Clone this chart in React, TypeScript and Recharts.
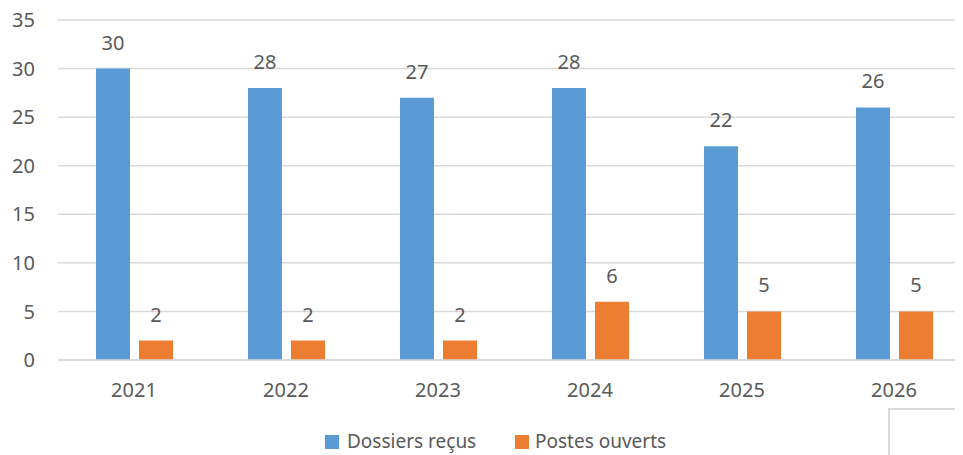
import { BarChart, Bar, XAxis, YAxis, CartesianGrid, Legend, LabelList } from 'recharts';

const years = ['2021', '2022', '2023', '2024', '2025', '2026'];
const dossiersRecus = [30, 28, 27, 28, 22, 26];
const postesOuverts = [2, 2, 2, 6, 5, 5];
const yTicks = [0, 5, 10, 15, 20, 25, 30, 35];

const BLUE = '#5B9BD5';
const ORANGE = '#ED7D31';
const TEXT = '#595959';
const FONT = '"Noto Sans", "Open Sans", sans-serif';

const data = years.map((year, i) => ({
  year,
  dossiers: dossiersRecus[i],
  postes: postesOuverts[i],
}));

const LegendContent = () => (
  <div style={{ display: 'flex', alignItems: 'center', fontFamily: FONT, fontSize: 19, lineHeight: '19px', color: TEXT }}>
    <div style={{ display: 'flex', alignItems: 'center', width: 190 }}>
      <span style={{ display: 'inline-block', width: 14, height: 14, background: BLUE, marginRight: 8 }} />
      <span>Dossiers reçus</span>
    </div>
    <div style={{ display: 'flex', alignItems: 'center' }}>
      <span style={{ display: 'inline-block', width: 14, height: 14, background: ORANGE, marginRight: 6 }} />
      <span>Postes ouverts</span>
    </div>
  </div>
);

export default function App() {
  return (
    <div style={{ position: 'relative', margin: '-8px 0 0 -8px', width: 963, height: 455, overflow: 'hidden', background: '#fff' }}>
      <BarChart
        width={980}
        height={455}
        data={data}
        margin={{ top: 20, right: 10, left: 0, bottom: 0 }}
        barCategoryGap="25%"
        barGap={9}
      >
        <CartesianGrid vertical={false} stroke="#D9D9D9" strokeWidth={1.5} />
        <XAxis
          dataKey="year"
          height={95}
          tickLine={false}
          axisLine={{ stroke: '#D9D9D9', strokeWidth: 1.5 }}
          tickSize={0}
          tickMargin={23}
          tick={{ fontSize: 20, fill: TEXT, fontFamily: FONT }}
        />
        <YAxis
          width={58}
          domain={[0, 35]}
          ticks={yTicks}
          axisLine={false}
          tickLine={false}
          tickSize={0}
          tickMargin={23}
          tick={{ fontSize: 20, fill: TEXT, fontFamily: FONT }}
        />
        <Legend
          verticalAlign="middle"
          content={<LegendContent />}
          wrapperStyle={{ position: 'absolute', top: 432, left: 325, width: 400 }}
        />
        <Bar dataKey="dossiers" name="Dossiers reçus" fill={BLUE} isAnimationActive={false}>
          <LabelList dataKey="dossiers" position="top" offset={19} fill={TEXT} fontSize={20} fontFamily={FONT} />
        </Bar>
        <Bar dataKey="postes" name="Postes ouverts" fill={ORANGE} isAnimationActive={false}>
          <LabelList dataKey="postes" position="top" offset={19} fill={TEXT} fontSize={20} fontFamily={FONT} />
        </Bar>
      </BarChart>
      <div style={{ position: 'absolute', left: 888, top: 408, width: 100, height: 60, borderLeft: '2px solid #D9D9D9', borderTop: '2px solid #D9D9D9' }} />
    </div>
  );
}
